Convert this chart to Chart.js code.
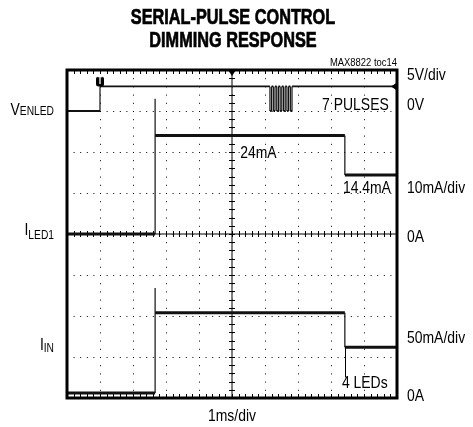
<!DOCTYPE html>
<html>
<head>
<meta charset="utf-8">
<script src="https://cdn.jsdelivr.net/npm/chart.js@4.4.1/dist/chart.umd.min.js"></script>
<style>
html, body { margin: 0; padding: 0; background: #fff; }
canvas { display: block; }
</style>
</head>
<body>
<canvas id="scope" width="473" height="427"></canvas>
<script>
// scope capture: MAX8822 serial-pulse dimming (1ms/div)
const enTime  = [0, 1.00, 1.00, 6.150, 6.150, 6.200, 6.200, 6.253, 6.253, 6.303, 6.303, 6.356, 6.356, 6.406, 6.406, 6.459, 6.459, 6.509, 6.509, 6.562, 6.562, 6.612, 6.612, 6.665, 6.665, 6.715, 6.715, 6.768, 6.768, 6.818, 6.818, 10];
const enVolts = [0, 0, 3.0, 3.0, 0, 0, 3.0, 3.0, 0, 0, 3.0, 3.0, 0, 0, 3.0, 3.0, 0, 0, 3.0, 3.0, 0, 0, 3.0, 3.0, 0, 0, 3.0, 3.0, 0, 0, 3.0, 3.0];

const ledTime = [0, 2.67, 2.67, 2.67, 8.42, 8.42, 10];
const ledMilliamps = [0, 0, 33, 24, 24, 14.4, 14.4];

const inTime = [0, 2.67, 2.67, 2.67, 8.42, 8.42, 10];
const inMilliamps = [6, 6, 134, 104, 104, 62, 62];

// volts or mA per division, and where each channel's zero sits (divisions from bottom)
const chanPerDiv = [5, 10, 50];
const chanZeroDiv = [7, 4, 0];
const chanNames = ['VENLED', 'ILED1', 'IIN'];

const FONT = "'Liberation Sans', Arial, sans-serif";
const NARROW = 0.82; // squeeze Arial-like glyphs to a condensed face

function toDivs(times, values, ch) {
    return times.map((t, i) => ({ x: t, y: chanZeroDiv[ch] + values[i] / chanPerDiv[ch] }));
}

function traceSet(label, data, width) {
    return {
        label: label,
        data: data,
        borderColor: '#111',
        borderWidth: width,
        pointRadius: 0,
        tension: 0,
        segment: {
            borderWidth: c => (c.p0.parsed.x === c.p1.parsed.x ? 1.2 : width)
        }
    };
}

function textWidth(ctx, s, size, weight, squeeze) {
    ctx.font = (weight || 'normal') + ' ' + size + 'px ' + FONT;
    return ctx.measureText(s).width * (squeeze || NARROW);
}

function put(ctx, s, x, y, size, align, weight, squeeze, heavy) {
    const k = squeeze || NARROW;
    const w = textWidth(ctx, s, size, weight, k);
    const x0 = align === 'center' ? x - w / 2 : align === 'right' ? x - w : x;
    ctx.save();
    ctx.textAlign = 'left';
    ctx.textBaseline = 'alphabetic';
    ctx.translate(x0, y);
    ctx.scale(k, 1);
    ctx.fillText(s, 0, 0);
    if (heavy) {
        ctx.lineWidth = heavy;
        ctx.strokeStyle = ctx.fillStyle;
        ctx.strokeText(s, 0, 0);
    }
    ctx.restore();
}

// label with a smaller trailing part, right aligned at x
function putSub(ctx, big, small, x, yBig, ySmall) {
    const wb = textWidth(ctx, big, 17);
    const ws = textWidth(ctx, small, 12.5);
    put(ctx, big, x - ws - wb, yBig, 17);
    put(ctx, small, x - ws, ySmall, 12.5);
}

const scopeFrame = {
    id: 'scopeFrame',
    beforeDatasetsDraw(chart) {
        const { ctx, chartArea: a, scales: { x, y } } = chart;
        const cx = x.getPixelForValue(5), cy = y.getPixelForValue(4);
        ctx.save();
        ctx.strokeStyle = '#000';
        ctx.lineWidth = 1;
        ctx.beginPath();
        ctx.moveTo(a.left, cy); ctx.lineTo(a.right, cy);
        ctx.moveTo(cx, a.top); ctx.lineTo(cx, a.bottom);
        for (let v = 0.2; v < 10; v += 0.2) {
            const px = Math.round(x.getPixelForValue(v)) + 0.5;
            ctx.moveTo(px, cy - 3); ctx.lineTo(px, cy + 3);
            ctx.moveTo(px, a.top); ctx.lineTo(px, a.top + 4);
            ctx.moveTo(px, a.bottom); ctx.lineTo(px, a.bottom - 4);
        }
        for (let v = 0.2; v < 8; v += 0.2) {
            const py = Math.round(y.getPixelForValue(v)) + 0.5;
            ctx.moveTo(cx - 3, py); ctx.lineTo(cx + 3, py);
        }
        ctx.stroke();
        ctx.restore();
    },
    afterDraw(chart) {
        const { ctx, chartArea: a, scales: { x, y } } = chart;
        ctx.save();
        ctx.fillStyle = '#000';
        ctx.strokeStyle = '#000';

        // frame
        ctx.lineWidth = 3;
        ctx.strokeRect(a.left, a.top, a.right - a.left, a.bottom - a.top);

        // trigger marker
        const tx = x.getPixelForValue(enTime[1]);
        const hy = y.getPixelForValue(chanZeroDiv[0] + enVolts[2] / chanPerDiv[0]);
        ctx.beginPath();
        ctx.roundRect(tx - 4, hy - 10, 8, 10, 2.5);
        ctx.fill();
        ctx.fillStyle = '#fff';
        put(ctx, 'T', tx, hy - 2, 10, 'center', 'bold');
        ctx.fillStyle = '#000';

        // trigger position and channel markers
        const cx = x.getPixelForValue(5);
        ctx.beginPath();
        ctx.moveTo(cx - 4, a.top); ctx.lineTo(cx + 4, a.top); ctx.lineTo(cx, a.top + 6);
        ctx.closePath(); ctx.fill();
        ctx.beginPath();
        ctx.moveTo(a.right, hy - 4); ctx.lineTo(a.right, hy + 4); ctx.lineTo(a.right - 6, hy);
        ctx.closePath(); ctx.fill();

        // title
        put(ctx, 'SERIAL-PULSE CONTROL', 233, 24, 22, 'center', 'bold', 0.74, 0.7);
        put(ctx, 'DIMMING RESPONSE', 233, 47, 22, 'center', 'bold', 0.74, 0.7);
        put(ctx, 'MAX8822 toc14', a.right, a.top - 4, 11.5, 'right');

        // channel names
        const lx = a.left - 13;
        putSub(ctx, 'V', 'ENLED', lx, y.getPixelForValue(7) + 4, y.getPixelForValue(7) + 4);
        putSub(ctx, 'I', 'LED1', lx, y.getPixelForValue(4) + 1, y.getPixelForValue(4) + 5);
        putSub(ctx, 'I', 'IN', lx, y.getPixelForValue(1.17), y.getPixelForValue(1.17) + 2);

        // scale settings on the right
        const rx = a.right + 10;
        put(ctx, chanPerDiv[0] + 'V/div', rx, y.getPixelForValue(7.76), 17);
        put(ctx, '0V', rx, y.getPixelForValue(7) - 1, 17);
        put(ctx, chanPerDiv[1] + 'mA/div', rx, y.getPixelForValue(5), 17);
        put(ctx, '0A', rx, y.getPixelForValue(4) + 8, 17);
        put(ctx, chanPerDiv[2] + 'mA/div', rx, y.getPixelForValue(1.34), 17);
        put(ctx, '0A', rx, y.getPixelForValue(0) + 3, 17);
        put(ctx, '1ms/div', cx, a.bottom + 23, 17, 'center');

        // notes inside the screen
        put(ctx, '7 PULSES', x.getPixelForValue(7.73), y.getPixelForValue(7.02), 17);
        put(ctx, ledMilliamps[3] + 'mA', x.getPixelForValue(5.25), y.getPixelForValue(5.85), 17);
        put(ctx, ledMilliamps[5] + 'mA', x.getPixelForValue(8.36), y.getPixelForValue(5.0), 17);
        put(ctx, '4 LEDs', x.getPixelForValue(8.33), y.getPixelForValue(0.24), 17);
        const nx = Math.round(x.getPixelForValue(inTime[4])) + 0.5;
        ctx.lineWidth = 1;
        ctx.beginPath();
        ctx.moveTo(nx, y.getPixelForValue(inMilliamps[5] / chanPerDiv[2]));
        ctx.lineTo(nx, y.getPixelForValue(0.5));
        ctx.stroke();
        ctx.restore();
    }
};

const gridColor = c => (c.tick.value === 0 || c.tick.value === c.scale.max) ? 'rgba(0,0,0,0)' : '#000';

new Chart(document.getElementById('scope'), {
    type: 'line',
    data: {
        datasets: [
            traceSet(chanNames[0], toDivs(enTime, enVolts, 0), 1.8),
            traceSet(chanNames[1], toDivs(ledTime, ledMilliamps, 1), 3),
            traceSet(chanNames[2], toDivs(inTime, inMilliamps, 2), 3)
        ]
    },
    options: {
        responsive: false,
        devicePixelRatio: 1,
        animation: false,
        layout: { padding: { left: 67, right: 76, top: 70, bottom: 29 } },
        plugins: { legend: { display: false }, tooltip: { enabled: false }, title: { display: false } },
        scales: {
            x: {
                type: 'linear', min: 0, max: 10,
                ticks: { display: false, stepSize: 1 },
                grid: { color: gridColor, lineWidth: 1, drawTicks: false },
                border: { display: false, dash: [1, 7.2] }
            },
            y: {
                type: 'linear', min: 0, max: 8,
                ticks: { display: false, stepSize: 1 },
                grid: { color: gridColor, lineWidth: 1, drawTicks: false },
                border: { display: false, dash: [1, 5.6] }
            }
        }
    },
    plugins: [scopeFrame]
});
</script>
</body>
</html>
